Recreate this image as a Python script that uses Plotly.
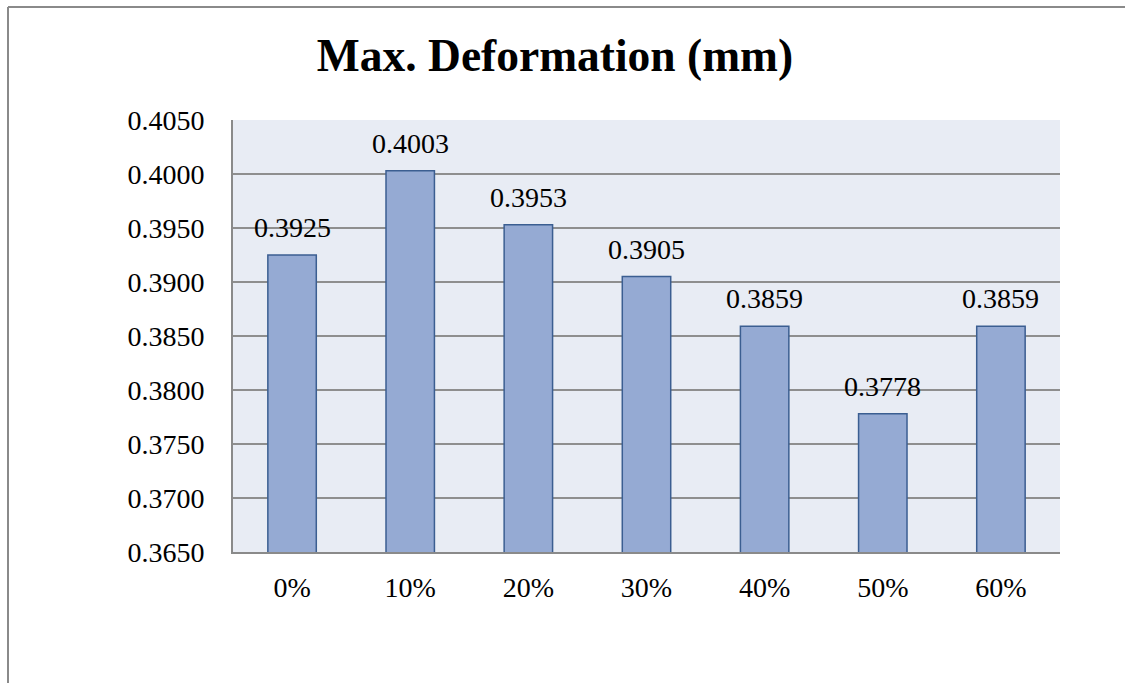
import plotly.graph_objects as go

categories = ["0%", "10%", "20%", "30%", "40%", "50%", "60%"]
values = [0.3925, 0.4003, 0.3953, 0.3905, 0.3859, 0.3778, 0.3859]
value_labels = ["0.3925", "0.4003", "0.3953", "0.3905", "0.3859", "0.3778", "0.3859"]
y_ticks = [0.3650, 0.3700, 0.3750, 0.3800, 0.3850, 0.3900, 0.3950, 0.4000, 0.4050]
y_tick_labels = ["%.4f" % v for v in y_ticks]

FONT = "Liberation Serif, Times New Roman, serif"
W, H = 1125, 683
L, R, T, B = 233, 65, 120, 131
pw, ph = W - L - R, H - T - B

fig = go.Figure()
fig.add_trace(go.Bar(
    x=categories, y=values,
    marker=dict(color="#95aad3", line=dict(color="#3b5e91", width=1.5)),
    width=0.41,
    hoverinfo="x+y",
))

for c, v, t in zip(categories, values, value_labels):
    fig.add_annotation(x=c, y=v, text=t, showarrow=False, yanchor="bottom",
                       yshift=10, font=dict(family=FONT, size=28, color="#000"))

def px_x(x):
    return (x - L) / pw

def px_y(y):
    return (H - B - y) / ph

# outer chart frame (top and left edges visible)
fig.add_shape(type="line", xref="paper", yref="paper",
              x0=px_x(8), x1=px_x(W + 5), y0=px_y(7), y1=px_y(7),
              line=dict(color="#8a8a8a", width=2))
fig.add_shape(type="line", xref="paper", yref="paper",
              x0=px_x(8), x1=px_x(8), y0=px_y(7), y1=px_y(H + 5),
              line=dict(color="#8a8a8a", width=2))

fig.update_layout(
    width=W, height=H,
    margin=dict(l=L, r=R, t=T, b=B, autoexpand=False),
    paper_bgcolor="white",
    plot_bgcolor="#e8ecf4",
    showlegend=False,
    bargap=0.59,
    title=dict(text="<b>Max. Deformation (mm)</b>", x=555 / W, xanchor="center",
               y=1 - 55 / H, yanchor="middle", yref="container",
               font=dict(family=FONT, size=45.5, color="#000")),
    xaxis=dict(showgrid=False, showline=True, linecolor="#8a8a8a", linewidth=2,
               ticks="", tickfont=dict(family=FONT, size=28, color="#000"),
               ticklabelstandoff=9),
    yaxis=dict(range=[0.365, 0.405], tickvals=y_ticks, ticktext=y_tick_labels,
               showgrid=True, gridcolor="#8e8e8e", gridwidth=1.5,
               showline=True, linecolor="#8a8a8a", linewidth=2, zeroline=False,
               ticks="", tickfont=dict(family=FONT, size=28, color="#000"),
               ticklabelstandoff=21),
)

fig.write_html("out.html", config={"displayModeBar": False},
               post_script="document.body.style.margin='0';document.body.style.overflow='hidden';")
